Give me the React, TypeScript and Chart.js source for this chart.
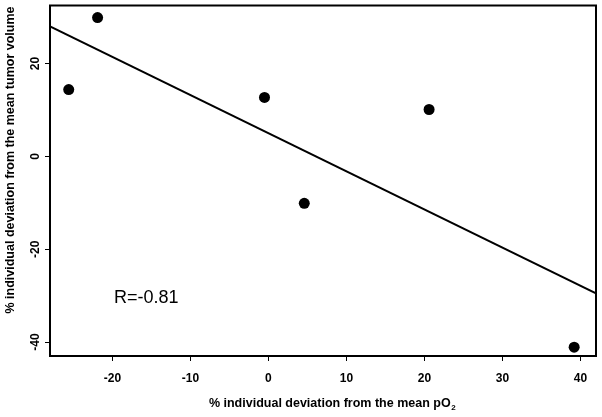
import React, { useEffect, useRef } from "react";
import { Chart, registerables } from "chart.js";

Chart.register(...registerables);

// Data
const pointsX = [-25.6, -21.9, -0.5, 4.6, 20.6, 39.2];
const pointsY = [14.4, 29.9, 12.7, -10.1, 10.1, -41.1];
const fitX = [-28, 42];
const fitY = [28, -29.5];
const xTicks = [-20, -10, 0, 10, 20, 30, 40];
const yTicks = [-40, -20, 0, 20];
const xRange = [-28, 42];
const yRange = [-43, 32.5];
const xTitleMain = "% individual deviation from the mean pO";
const xTitleSub = "2";
const yTitle = "% individual deviation from the mean tumor volume";
const annotationText = "R=-0.81";
const annotationAt = [-19.8, -30.5];

const FONT = '"Liberation Sans", Arial, Helvetica, sans-serif';

const decorPlugin = {
  id: "decor",
  afterDraw(chart: any) {
    const { ctx, chartArea } = chart;
    const xs = chart.scales.x;
    const ys = chart.scales.y;
    ctx.save();
    // plot box
    ctx.strokeStyle = "#000";
    ctx.lineWidth = 2;
    ctx.strokeRect(chartArea.left, chartArea.top, chartArea.right - chartArea.left, chartArea.bottom - chartArea.top);

    // y tick labels (rotated, as in reference)
    ctx.fillStyle = "#000";
    ctx.font = `bold 12px ${FONT}`;
    ctx.textAlign = "center";
    ctx.textBaseline = "middle";
    ys.ticks.forEach((t: any) => {
      const py = ys.getPixelForValue(t.value);
      ctx.save();
      ctx.translate(36, py);
      ctx.rotate(-Math.PI / 2);
      ctx.fillText(String(t.value), 0, 0);
      ctx.restore();
    });

    // y title
    ctx.save();
    ctx.font = `bold 12.5px ${FONT}`;
    ctx.translate(11, 160);
    ctx.rotate(-Math.PI / 2);
    ctx.textAlign = "center";
    ctx.textBaseline = "middle";
    ctx.fillText(yTitle, 0, 0);
    ctx.restore();

    // x title with subscript
    ctx.font = `bold 12.5px ${FONT}`;
    const wMain = ctx.measureText(xTitleMain).width;
    ctx.font = `bold 8px ${FONT}`;
    const wSub = ctx.measureText(xTitleSub).width;
    const total = wMain + wSub;
    const cx = 332;
    const startX = cx - total / 2;
    ctx.textAlign = "left";
    ctx.textBaseline = "middle";
    ctx.font = `bold 12.5px ${FONT}`;
    ctx.fillText(xTitleMain, startX, 404);
    ctx.font = `bold 8px ${FONT}`;
    ctx.fillText(xTitleSub, startX + wMain + 0.5, 408);

    // annotation
    ctx.font = `18px ${FONT}`;
    ctx.textAlign = "left";
    ctx.textBaseline = "middle";
    ctx.fillText(annotationText, xs.getPixelForValue(annotationAt[0]), ys.getPixelForValue(annotationAt[1]));
    ctx.restore();
  },
};

export default function App() {
  const canvasRef = useRef<HTMLCanvasElement | null>(null);

  useEffect(() => {
    document.body.style.margin = "0";
    const canvas = canvasRef.current;
    if (!canvas) return;
    const chart = new Chart(canvas, {
      type: "scatter",
      data: {
        datasets: [
          {
            type: "scatter",
            data: pointsX.map((x, i) => ({ x, y: pointsY[i] })),
            backgroundColor: "#000",
            borderWidth: 0,
            pointRadius: 5.5,
            pointHoverRadius: 5.5,
          },
          {
            type: "line",
            data: fitX.map((x, i) => ({ x, y: fitY[i] })),
            borderColor: "#000",
            borderWidth: 2,
            pointRadius: 0,
            fill: false,
            tension: 0,
          },
        ],
      } as any,
      options: {
        animation: false,
        responsive: true,
        maintainAspectRatio: false,
        layout: { padding: { top: 5, right: 6, left: 0, bottom: 0 } },
        plugins: {
          legend: { display: false },
          tooltip: { enabled: false },
          title: { display: false },
        },
        scales: {
          x: {
            type: "linear",
            min: xRange[0],
            max: xRange[1],
            afterBuildTicks: (s: any) => {
              s.ticks = xTicks.map((v) => ({ value: v }));
            },
            afterFit: (s: any) => {
              s.height = 61;
            },
            border: { display: false },
            grid: {
              display: true,
              drawOnChartArea: false,
              drawTicks: true,
              tickLength: 5,
              color: "#000",
              lineWidth: 1,
            },
            ticks: {
              display: true,
              color: "#000",
              font: { family: FONT, size: 12, weight: "bold" },
              padding: 10,
              maxRotation: 0,
              minRotation: 0,
              autoSkip: false,
            },
          },
          y: {
            type: "linear",
            min: yRange[0],
            max: yRange[1],
            afterBuildTicks: (s: any) => {
              s.ticks = yTicks.map((v) => ({ value: v }));
            },
            afterFit: (s: any) => {
              s.width = 50;
            },
            border: { display: false },
            grid: {
              display: true,
              drawOnChartArea: false,
              drawTicks: true,
              tickLength: 5,
              color: "#000",
              lineWidth: 1,
            },
            ticks: { display: false },
          },
        },
      } as any,
      plugins: [decorPlugin],
    });
    return () => chart.destroy();
  }, []);

  return (
    <div style={{ width: 602, height: 417, position: "relative", background: "#fff" }}>
      <canvas ref={canvasRef} />
    </div>
  );
}
